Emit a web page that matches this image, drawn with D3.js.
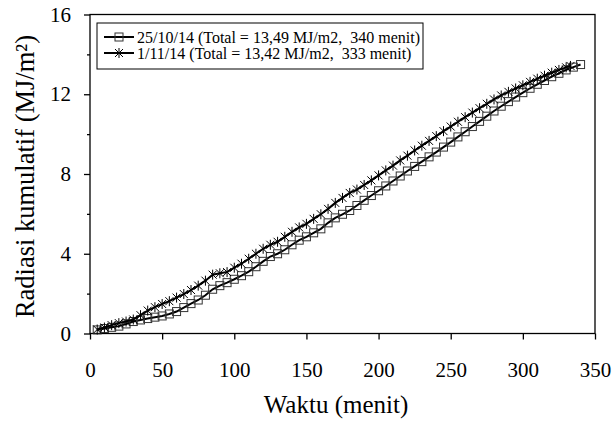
<!DOCTYPE html>
<html>
<head>
<meta charset="utf-8">
<script src="https://cdn.jsdelivr.net/npm/d3@7"></script>
<style>
  html, body { margin: 0; padding: 0; background: #fff; }
  svg { display: block; font-family: "Liberation Serif", "Times New Roman", serif; }
</style>
</head>
<body>
<svg id="chart" width="615" height="421"></svg>
<script>
// ---- data ----
const seriesNames = [
  "25/10/14 (Total = 13,49 MJ/m2,  340 menit)",
  "1/11/14 (Total = 13,42 MJ/m2,  333 menit)"
];
const times1 = [5,10,15,20,25,30,35,40,45,50,55,60,65,70,75,80,85,90,95,100,105,110,115,120,125,130,135,140,145,150,155,160,165,170,175,180,185,190,195,200,205,210,215,220,225,230,235,240,245,250,255,260,265,270,275,280,285,290,295,300,305,310,315,320,325,330,335,340];
const values1 = [0.18,0.25,0.31,0.37,0.48,0.6,0.68,0.75,0.82,0.88,0.98,1.1,1.3,1.5,1.68,1.92,2.22,2.4,2.55,2.72,2.9,3.1,3.35,3.62,3.86,4.0,4.2,4.45,4.68,4.85,5.05,5.25,5.55,5.8,5.98,6.17,6.42,6.68,6.92,7.16,7.4,7.65,7.9,8.15,8.38,8.62,8.86,9.1,9.35,9.6,9.86,10.12,10.38,10.64,10.9,11.16,11.4,11.63,11.86,12.08,12.3,12.5,12.69,12.88,13.05,13.22,13.36,13.49];
const times2 = [5,10,15,20,25,30,35,40,45,50,55,60,65,70,75,80,85,90,95,100,105,110,115,120,125,130,135,140,145,150,155,160,165,170,175,180,185,190,195,200,205,210,215,220,225,230,235,240,245,250,255,260,265,270,275,280,285,290,295,300,305,310,315,320,325,330,333];
const values2 = [0.2,0.3,0.42,0.52,0.6,0.7,0.92,1.15,1.32,1.48,1.62,1.8,1.98,2.18,2.4,2.65,2.95,3.02,3.08,3.3,3.5,3.75,4.0,4.25,4.45,4.6,4.85,5.1,5.32,5.5,5.75,5.98,6.25,6.55,6.8,7.05,7.22,7.45,7.68,7.93,8.18,8.42,8.68,8.92,9.18,9.42,9.66,9.9,10.15,10.38,10.62,10.85,11.08,11.3,11.52,11.74,11.94,12.12,12.29,12.45,12.62,12.78,12.93,13.08,13.22,13.35,13.42];
const xTicks = [0,50,100,150,200,250,300,350];
const yMajorTicks = [0,4,8,12,16];
const yMinorTicks = [2,6,10,14];
const xTitle = "Waktu (menit)";
const yTitle = "Radiasi kumulatif (MJ/m\u00B2)";

// ---- layout ----
const svg = d3.select("#chart");
const x = d3.scaleLinear().domain([0, 350]).range([90, 595]);
const y = d3.scaleLinear().domain([0, 16]).range([333.5, 14.5]);

// plot border
svg.append("rect")
  .attr("x", x(0)).attr("y", y(16))
  .attr("width", x(350) - x(0)).attr("height", y(0) - y(16))
  .attr("fill", "none").attr("stroke", "#000").attr("stroke-width", 1.3);

// x axis
const gx = svg.append("g").attr("transform", `translate(0,${y(0)})`)
  .call(d3.axisBottom(x).tickValues(xTicks).tickSize(6).tickFormat(d3.format("d")));
gx.select(".domain").remove();
gx.selectAll("line").attr("stroke-width", 1.3);
gx.selectAll("text").attr("dy", null).attr("y", 43.5)
  .attr("font-size", 21).attr("font-family", "Liberation Serif, serif").attr("fill", "#000");

// y axis minor
const gyMin = svg.append("g").attr("transform", `translate(${x(0)},0)`)
  .call(d3.axisLeft(y).tickValues(yMinorTicks).tickSize(3).tickFormat(""));
gyMin.select(".domain").remove();
gyMin.selectAll("line").attr("stroke-width", 1.3);

// y axis major
const gy = svg.append("g").attr("transform", `translate(${x(0)},0)`)
  .call(d3.axisLeft(y).tickValues(yMajorTicks).tickSize(6).tickPadding(13).tickFormat(d3.format("d")));
gy.select(".domain").remove();
gy.selectAll("line").attr("stroke-width", 1.3);
gy.selectAll("text").attr("font-size", 21).attr("font-family", "Liberation Serif, serif").attr("fill", "#000");

// titles
svg.append("text").attr("x", 336).attr("y", 413)
  .attr("text-anchor", "middle").attr("font-size", 25).text(xTitle);
svg.append("text").attr("transform", "translate(34,176.5) rotate(-90)")
  .attr("text-anchor", "middle").attr("font-size", 26.5).text(yTitle);

// lines
const line = d3.line().x(d => x(d[0])).y(d => y(d[1]));
const data1 = times1.map((t, i) => [t, values1[i]]);
const data2 = times2.map((t, i) => [t, values2[i]]);

const starPath = "M-4,-4L4,4M-4,4L4,-4M0,-5V5";

function drawSeries(data, kind) {
  svg.append("path").datum(data).attr("d", line)
    .attr("fill", "none").attr("stroke", "#000").attr("stroke-width", 2);
  const g = svg.append("g");
  if (kind === "square") {
    g.selectAll("rect").data(data).join("rect")
      .attr("x", d => x(d[0]) - 4).attr("y", d => y(d[1]) - 4)
      .attr("width", 8).attr("height", 8)
      .attr("fill", "none").attr("stroke", "#333").attr("stroke-width", 1);
  } else {
    g.selectAll("path").data(data).join("path")
      .attr("transform", d => `translate(${x(d[0])},${y(d[1])})`)
      .attr("d", starPath).attr("fill", "none").attr("stroke", "#000").attr("stroke-width", 1);
  }
}
drawSeries(data1, "square");
drawSeries(data2, "star");

// legend
const lg = svg.append("g");
lg.append("rect").attr("x", 97).attr("y", 23).attr("width", 326).attr("height", 46)
  .attr("fill", "#fff").attr("stroke", "#000").attr("stroke-width", 1);
const legY = [37, 53];
const kinds = ["square", "star"];
seriesNames.forEach((name, i) => {
  const yy = legY[i];
  lg.append("line").attr("x1", 104).attr("x2", 134).attr("y1", yy).attr("y2", yy)
    .attr("stroke", "#000").attr("stroke-width", 2);
  if (kinds[i] === "square") {
    lg.append("rect").attr("x", 119 - 4).attr("y", yy - 4).attr("width", 8).attr("height", 8)
      .attr("fill", "none").attr("stroke", "#333").attr("stroke-width", 1);
  } else {
    lg.append("path").attr("transform", `translate(119,${yy})`).attr("d", starPath)
      .attr("fill", "none").attr("stroke", "#000").attr("stroke-width", 1);
  }
  lg.append("text").attr("x", 137).attr("y", yy + 5.5).attr("font-size", 16)
    .style("white-space", "pre").text(name);
});
</script>
</body>
</html>
